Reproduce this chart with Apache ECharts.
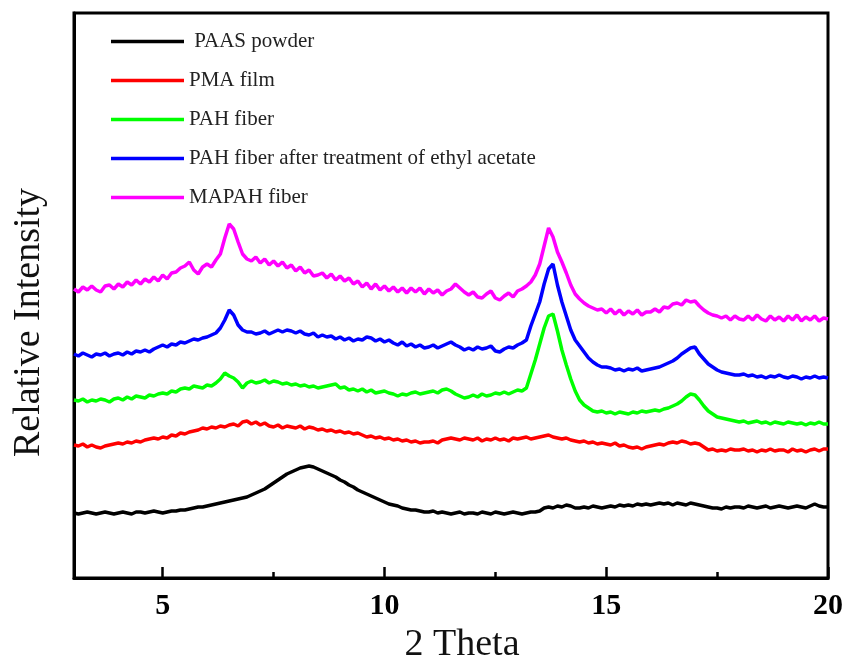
<!DOCTYPE html>
<html>
<head>
<meta charset="utf-8">
<script src="https://cdn.jsdelivr.net/npm/echarts@6/dist/echarts.min.js"></script>
<style>
html,body{margin:0;padding:0;background:#fff;}
#chart{width:847px;height:661px;}
</style>
</head>
<body>
<div id="chart"></div>
<script>
// XRD scan: 2-theta from 3.0 to 20.0 deg, step 0.1 deg
const scanStart = 3.0;
const scanStep = 0.1;
const scanCount = 171;

const seriesNames = [
  'PAAS powder',
  'PMA film',
  'PAH fiber',
  'PAH fiber after treatment of ethyl acetate',
  'MAPAH fiber'
];
const seriesColors = ['#000000', '#ff0000', '#00ff00', '#0000ff', '#ff00ff'];

const majorTicks = [5, 10, 15, 20];
const minorTicks = [7.5, 12.5, 17.5];

// Relative intensity (arbitrary units, curves offset), one row per degree
const paasPowder = [
  65,64,65,66,65,64,65,66,65,64,
  65,66,65,64,66,66,65,66,67,66,
  65,66,67,67,68,68,69,70,71,71,
  72,73,74,75,76,77,78,79,80,81,
  83,85,87,89,92,95,98,101,104,106,
  108,110,111,112,111,109,107,105,103,101,
  98,96,93,91,88,86,84,82,80,78,
  76,74,73,72,70,69,68,68,67,66,
  66,67,65,66,65,64,65,66,64,65,
  65,64,66,65,64,66,65,64,65,66,
  65,64,65,66,66,67,70,71,70,72,
  71,73,72,70,70,71,70,72,71,70,
  71,72,71,73,72,73,72,74,73,74,
  73,74,75,74,75,73,75,74,73,75,
  74,73,72,71,70,70,69,71,70,71,
  71,70,72,71,70,71,72,70,71,72,
  71,70,71,72,71,70,72,74,72,71,
  71
];
const pmaFilm = [
  133,132,134,131,133,131,130,132,133,134,
  135,134,136,135,137,136,138,139,140,139,
  141,140,143,142,145,144,146,147,148,150,
  149,151,150,152,151,153,154,152,156,157,
  154,156,153,155,152,151,153,150,152,151,
  150,152,149,151,150,148,149,147,148,146,
  147,145,146,144,145,143,141,142,140,141,
  139,140,138,139,137,138,136,137,135,136,
  136,137,135,138,139,140,139,138,140,139,
  138,140,137,139,138,140,138,139,137,140,
  139,140,141,139,140,141,142,143,141,140,
  139,140,138,137,136,137,135,136,134,135,
  134,133,135,132,133,131,130,131,129,131,
  132,133,134,133,135,136,135,137,136,134,
  135,134,131,128,129,127,128,127,129,128,
  128,129,127,128,126,128,127,129,127,128,
  128,126,129,127,128,126,128,129,127,129,
  129
];
const pahFiber = [
  178,177,179,176,178,177,179,178,176,179,
  180,178,181,179,182,181,180,183,182,184,
  185,184,187,186,189,190,189,192,191,190,
  193,192,195,199,205,202,200,196,190,195,
  197,195,196,198,195,197,196,194,195,193,
  194,192,193,191,192,190,191,192,193,194,
  190,191,188,189,187,189,186,188,185,186,
  187,185,184,182,184,183,185,186,184,185,
  186,187,185,188,189,187,184,182,180,181,
  183,181,184,182,183,185,184,186,184,186,
  188,187,190,204,218,234,250,262,264,247,
  228,213,199,187,178,173,170,167,166,167,
  165,166,164,166,165,164,166,165,167,166,
  167,168,167,169,170,172,174,177,181,184,
  183,178,172,167,164,161,160,159,158,157,
  156,157,155,156,157,155,156,154,156,155,
  154,156,155,154,155,153,155,154,156,154,
  154
];
const pahFiberEA = [
  224,222,225,223,221,224,223,225,222,224,
  225,223,226,224,227,226,228,226,229,231,
  233,231,234,233,236,235,237,239,238,240,
  241,243,245,250,258,268,263,253,248,246,
  246,244,245,247,244,246,248,246,248,247,
  245,247,244,243,245,241,243,241,242,239,
  241,238,240,237,239,238,241,240,237,239,
  236,238,235,233,236,232,234,231,233,230,
  231,233,230,232,234,236,233,231,228,230,
  228,231,229,230,232,227,226,229,231,230,
  233,235,238,252,264,276,294,309,314,293,
  276,262,248,238,232,226,220,216,213,211,
  211,210,208,209,207,209,208,210,207,208,
  209,210,211,213,215,217,220,224,227,230,
  231,224,219,214,211,208,206,205,204,203,
  203,204,202,203,201,202,200,202,201,203,
  201,200,202,201,199,201,200,202,200,201,
  200
];
const mapahFiber = [
  289,286,291,288,292,288,286,292,293,289,
  294,291,296,293,298,294,299,296,301,297,
  303,299,305,306,310,312,316,308,304,311,
  314,311,318,324,340,354,349,336,324,319,
  317,321,315,319,313,317,312,316,310,313,
  307,311,305,308,302,303,305,300,304,298,
  302,297,300,294,297,291,295,289,294,288,
  292,287,291,286,290,285,290,286,290,284,
  289,285,288,283,287,289,294,290,286,283,
  286,281,280,284,287,280,278,282,285,281,
  287,289,292,296,303,314,332,350,341,326,
  316,305,293,284,279,275,272,270,268,269,
  265,269,264,268,263,267,264,268,263,266,
  266,269,266,271,270,274,275,273,278,276,
  277,272,268,265,263,262,260,262,258,262,
  259,258,262,258,263,259,257,262,258,261,
  257,262,258,263,257,261,258,262,257,260,
  259
];

const allData = [paasPowder, pmaFilm, pahFiber, pahFiberEA, mapahFiber];
const angles = [];
for (let i = 0; i < scanCount; i++) angles.push(Math.round((scanStart + i * scanStep) * 10) / 10);

const serif = "'Liberation Serif', 'Times New Roman', serif";

const chart = echarts.init(document.getElementById('chart'), null, {renderer: 'canvas'});

const series = allData.map((ys, k) => ({
  name: seriesNames[k],
  type: 'line',
  xAxisIndex: 0,
  yAxisIndex: 0,
  data: angles.map((a, i) => [a, ys[i]]),
  showSymbol: false,
  symbol: 'none',
  lineStyle: {color: seriesColors[k], width: 3.5},
  itemStyle: {color: seriesColors[k]},
  animation: false
}));

chart.setOption({
  animation: false,
  backgroundColor: '#ffffff',
  grid: {
    left: 74, right: 19, top: 13, bottom: 83,
    containLabel: false,
    outerBoundsMode: 'none',
    show: true, borderColor: '#000', borderWidth: 3, backgroundColor: 'transparent'
  },
  legend: {
    orient: 'vertical',
    left: 111,
    top: 31,
    padding: 0,
    icon: 'rect',
    itemWidth: 73,
    itemHeight: 3.5,
    itemGap: 18,
    formatter: function (name) { return name === 'PAAS powder' ? ' ' + name : name; },
    textStyle: {fontFamily: serif, fontSize: 21, color: '#222', lineHeight: 21},
    data: seriesNames
  },
  xAxis: [{
    type: 'value',
    min: 3, max: 20,
    position: 'bottom',
    axisLine: {show: true, onZero: false, lineStyle: {color: '#000', width: 3}},
    axisTick: {show: true, inside: true, length: 11, lineStyle: {color: '#000', width: 2.5}, customValues: majorTicks},
    minorTick: {show: false},
    axisLabel: {show: true, customValues: majorTicks, fontFamily: serif, fontWeight: 'bold', fontSize: 30, color: '#000', margin: 13},
    splitLine: {show: false},
    name: '2 Theta',
    nameLocation: 'middle',
    nameGap: 41,
    nameTextStyle: {fontFamily: serif, fontSize: 38, color: '#111', padding: [0, 0, 0, 22]}
  }, {
    type: 'value',
    min: 3, max: 20,
    position: 'bottom',
    axisLine: {show: false},
    axisTick: {show: true, inside: true, length: 6, lineStyle: {color: '#000', width: 2.5}, customValues: minorTicks},
    axisLabel: {show: false},
    splitLine: {show: false}
  }],
  yAxis: {
    type: 'value',
    min: 0, max: 565,
    axisLine: {show: true, lineStyle: {color: '#000', width: 3}},
    axisTick: {show: false},
    axisLabel: {show: false},
    splitLine: {show: false},
    name: 'Relative Intensity',
    nameLocation: 'middle',
    nameGap: 26,
    nameTextStyle: {fontFamily: serif, fontSize: 38, color: '#111', padding: [0, 54, 0, 0]}
  },
  series: series
});
</script>
</body>
</html>
